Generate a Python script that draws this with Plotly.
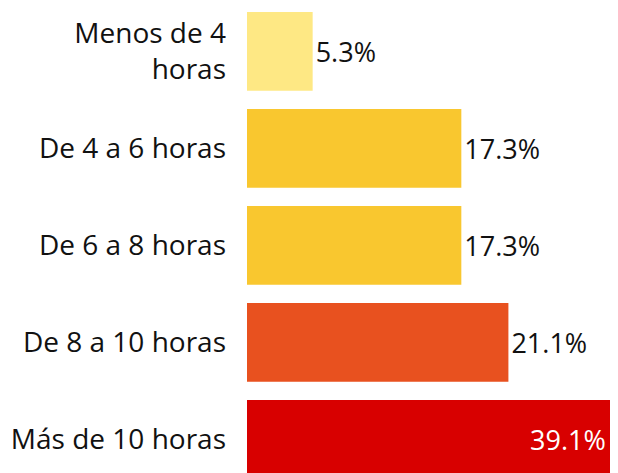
import plotly.graph_objects as go

categories = ["Menos de 4<br>horas", "De 4 a 6 horas", "De 6 a 8 horas", "De 8 a 10 horas", "Más de 10 horas"]
shares = [5.3, 17.3, 17.3, 21.1, 39.1]
colors = ["#FEE884", "#F9C72F", "#F9C72F", "#E8511F", "#D80000"]

FONT = "Open Sans"
INK = "#111111"

# The longest bar runs past the visible axis range, so its label is pinned
# inside the bar at the right edge of the plot area.
n = len(categories)
last = n - 1
text_positions = ["outside"] * last + ["none"]

fig = go.Figure(
    go.Bar(
        x=shares,
        y=list(range(n)),
        orientation="h",
        marker=dict(color=colors, line=dict(width=0)),
        text=[f"{v}%" for v in shares],
        textposition=text_positions,
        textfont=dict(family=FONT, size=27, color=INK),
        constraintext="none",
        cliponaxis=True,
        hoverinfo="skip",
    )
)

fig.add_annotation(
    x=1,
    xref="paper",
    y=last,
    yref="y",
    xanchor="right",
    yanchor="middle",
    xshift=-2,
    text=f"{shares[last]}%",
    showarrow=False,
    font=dict(family=FONT, size=27, color="#FFFFFF"),
)

fig.update_layout(
    width=602,
    height=465,
    margin=dict(l=239, r=0, t=0, b=0),
    paper_bgcolor="white",
    plot_bgcolor="white",
    bargap=0.19,
    showlegend=False,
    font=dict(family=FONT, size=28, color=INK),
    xaxis=dict(range=[0, 29.3], visible=False, fixedrange=True),
    yaxis=dict(
        range=[4.347, -0.447],
        tickmode="array",
        tickvals=list(range(n)),
        ticktext=categories,
        showgrid=False,
        zeroline=False,
        showline=False,
        ticks="",
        ticklabelstandoff=20,
        tickfont=dict(family=FONT, size=28, color=INK),
        fixedrange=True,
    ),
)

fig.write_html("out.html")
